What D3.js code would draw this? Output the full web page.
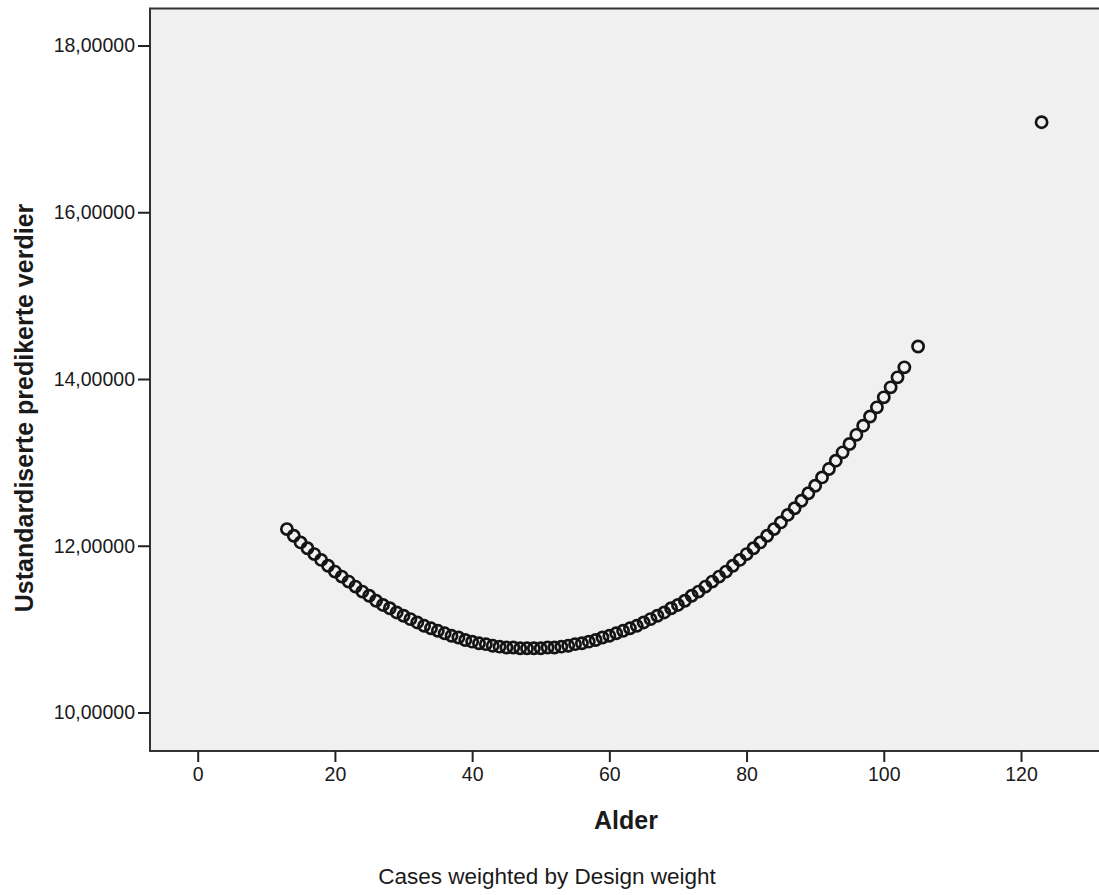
<!DOCTYPE html>
<html>
<head>
<meta charset="utf-8">
<script src="https://cdn.jsdelivr.net/npm/d3@7"></script>
<style>
  body { margin: 0; background: #fff; }
  text { font-family: "Liberation Sans", Arial, sans-serif; fill: #1a1a1a; }
</style>
</head>
<body>
<div id="chart"></div>
<script>
// ages (x) and unstandardized predicted values (y)
const ages = [13, 14, 15, 16, 17, 18, 19, 20, 21, 22, 23, 24, 25, 26, 27, 28, 29, 30,
  31, 32, 33, 34, 35, 36, 37, 38, 39, 40, 41, 42, 43, 44, 45, 46, 47, 48, 49, 50,
  51, 52, 53, 54, 55, 56, 57, 58, 59, 60, 61, 62, 63, 64, 65, 66, 67, 68, 69, 70,
  71, 72, 73, 74, 75, 76, 77, 78, 79, 80, 81, 82, 83, 84, 85, 86, 87, 88, 89, 90,
  91, 92, 93, 94, 95, 96, 97, 98, 99, 100, 101, 102, 103, 105, 123];
const predicted = [12.20, 12.12, 12.04, 11.97, 11.90, 11.83, 11.76, 11.69, 11.63, 11.57,
  11.51, 11.45, 11.40, 11.34, 11.29, 11.25, 11.20, 11.16, 11.12, 11.08, 11.04, 11.01,
  10.98, 10.95, 10.92, 10.90, 10.87, 10.85, 10.83, 10.82, 10.80, 10.79, 10.78, 10.78,
  10.77, 10.77, 10.77, 10.77, 10.78, 10.78, 10.79, 10.80, 10.82, 10.83, 10.85, 10.87,
  10.90, 10.92, 10.95, 10.98, 11.01, 11.04, 11.08, 11.12, 11.16, 11.20, 11.25, 11.29,
  11.34, 11.40, 11.45, 11.51, 11.57, 11.63, 11.69, 11.76, 11.83, 11.90, 11.97, 12.04,
  12.12, 12.20, 12.28, 12.37, 12.45, 12.54, 12.63, 12.72, 12.82, 12.92, 13.02, 13.12,
  13.22, 13.33, 13.44, 13.55, 13.66, 13.78, 13.90, 14.02, 14.14, 14.39, 17.08];
const xTicks = [0, 20, 40, 60, 80, 100, 120];
const yTicks = [10, 12, 14, 16, 18];

const width = 1099, height = 895;
const plot = { left: 150, top: 8.5, right: 1099, bottom: 751 };

const svg = d3.select("#chart").append("svg")
    .attr("width", width)
    .attr("height", height);

const x = d3.scaleLinear().domain([0, 120]).range([197.7, 1021]);
const y = d3.scaleLinear().domain([10, 18]).range([712.5, 45.5]);

// plot background + frame (right edge runs off the page)
svg.append("rect")
    .attr("x", plot.left)
    .attr("y", plot.top)
    .attr("width", plot.right - plot.left + 20)
    .attr("height", plot.bottom - plot.top)
    .attr("fill", "#f0f0f0")
    .attr("stroke", "#333")
    .attr("stroke-width", 2);

// y axis
const yAxis = svg.append("g")
    .attr("transform", `translate(${plot.left},0)`)
    .call(d3.axisLeft(y).tickValues(yTicks).tickSize(12).tickPadding(3)
        .tickFormat(d => d3.format(".5f")(d).replace(".", ",")));
yAxis.select(".domain").remove();
yAxis.selectAll(".tick line").attr("stroke", "#222").attr("stroke-width", 2);
yAxis.selectAll(".tick text").attr("font-size", 19.5).attr("font-family", null).attr("fill", "#1a1a1a");

// x axis
const xAxis = svg.append("g")
    .attr("transform", `translate(0,${plot.bottom})`)
    .call(d3.axisBottom(x).tickValues(xTicks).tickSize(11).tickPadding(5));
xAxis.select(".domain").remove();
xAxis.selectAll(".tick line").attr("stroke", "#222").attr("stroke-width", 2);
xAxis.selectAll(".tick text").attr("font-size", 19.5).attr("font-family", null).attr("fill", "#1a1a1a");

// points
svg.append("g")
    .selectAll("circle")
    .data(ages.map((a, i) => ({ age: a, value: predicted[i] })))
    .enter().append("circle")
    .attr("cx", d => x(d.age))
    .attr("cy", d => y(d.value))
    .attr("r", 5.6)
    .attr("fill", "none")
    .attr("stroke", "#141414")
    .attr("stroke-width", 2.7);

// titles
svg.append("text")
    .attr("x", 626)
    .attr("y", 829)
    .attr("text-anchor", "middle")
    .attr("font-size", 25)
    .attr("font-weight", "bold")
    .attr("fill", "#111")
    .text("Alder");

svg.append("text")
    .attr("transform", "translate(33,408) rotate(-90)")
    .attr("text-anchor", "middle")
    .attr("font-size", 25)
    .attr("font-weight", "bold")
    .attr("fill", "#111")
    .text("Ustandardiserte predikerte verdier");

svg.append("text")
    .attr("x", 547)
    .attr("y", 884)
    .attr("text-anchor", "middle")
    .attr("font-size", 22.5)
    .text("Cases weighted by Design weight");
</script>
</body>
</html>
